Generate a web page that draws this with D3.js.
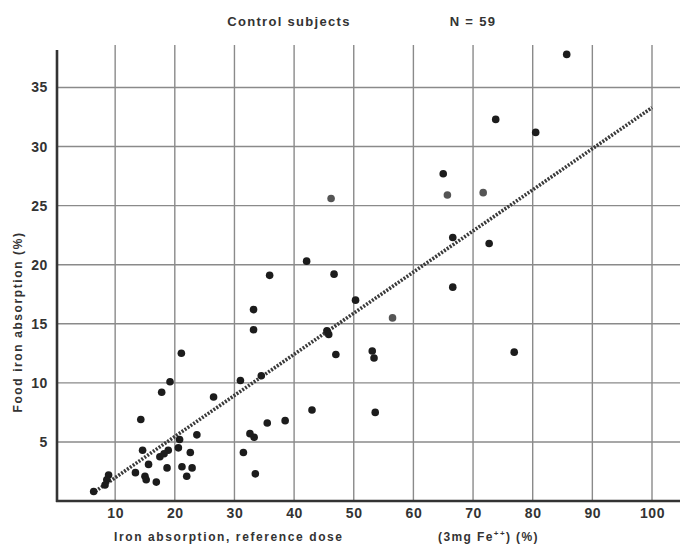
<!DOCTYPE html>
<html>
<head>
<meta charset="utf-8">
<script src="https://cdn.jsdelivr.net/npm/d3@7"></script>
<style>
body { margin: 0; background: #fff; }
text { font-family: "Liberation Sans", Arial, sans-serif; font-weight: bold; fill: #333; }
</style>
</head>
<body>
<div id="graph"></div>
<script>
// reference dose absorption (%) vs food iron absorption (%)
const refDose = [85.7, 73.8, 80.5, 65.0, 65.7, 71.7, 66.6, 72.7, 66.6, 76.9,
  46.2, 42.1, 35.9, 46.7, 50.3, 33.2, 56.5, 33.2, 45.5, 45.8,
  47.0, 53.1, 53.4, 34.5, 31.0, 26.5, 43.0, 53.6, 35.5, 38.5,
  32.6, 33.3, 31.5, 33.5, 21.1, 19.2, 17.8, 14.3, 20.8, 20.6,
  23.7, 22.6, 14.6, 18.7, 21.2, 22.9, 22.0, 16.9, 15.0, 15.2,
  13.4, 15.6, 17.5, 18.9, 18.2, 8.9, 8.6, 8.3, 6.4];
const foodIron = [37.8, 32.3, 31.2, 27.7, 25.9, 26.1, 22.3, 21.8, 18.1, 12.6,
  25.6, 20.3, 19.1, 19.2, 17.0, 16.2, 15.5, 14.5, 14.4, 14.1,
  12.4, 12.7, 12.1, 10.6, 10.2, 8.8, 7.7, 7.5, 6.6, 6.8,
  5.7, 5.4, 4.1, 2.3, 12.5, 10.1, 9.2, 6.9, 5.2, 4.5,
  5.6, 4.1, 4.3, 2.8, 2.9, 2.8, 2.1, 1.6, 2.1, 1.8,
  2.4, 3.1, 3.75, 4.3, 4.0, 2.2, 1.8, 1.35, 0.8];
const greyDots = [4, 5, 10, 16];

// regression line end points
const fitX = [6.2, 100];
const fitY = [0.65, 33.3];

const xTicks = [10, 20, 30, 40, 50, 60, 70, 80, 90, 100];
const yTicks = [5, 10, 15, 20, 25, 30, 35];

const W = 680, H = 544;
const x = d3.scaleLinear().domain([0, 100]).range([55.5, 652]);
const y = d3.scaleLinear().domain([0, 35]).range([501, 87.5]);
const left = 57, bottom = 501, right = 680;

const svg = d3.select('#graph')
  .append('svg')
  .attr('width', W)
  .attr('height', H);

// grid
svg.append('g').selectAll('line')
  .data(xTicks)
  .join('line')
  .attr('x1', d => x(d)).attr('x2', d => x(d))
  .attr('y1', 45).attr('y2', bottom)
  .attr('stroke', '#8a8a8a').attr('stroke-width', 1.4);

svg.append('g').selectAll('line')
  .data(yTicks)
  .join('line')
  .attr('x1', left).attr('x2', right)
  .attr('y1', d => y(d)).attr('y2', d => y(d))
  .attr('stroke', '#8a8a8a').attr('stroke-width', 1.4);

// axes
svg.append('line')
  .attr('x1', left).attr('x2', left).attr('y1', 50).attr('y2', bottom + 1)
  .attr('stroke', '#333').attr('stroke-width', 2.6);
svg.append('line')
  .attr('x1', left - 1).attr('x2', right).attr('y1', bottom).attr('y2', bottom)
  .attr('stroke', '#333').attr('stroke-width', 2.6);

// tick labels
const xAxis = svg.append('g')
  .attr('transform', `translate(0,${bottom})`)
  .call(d3.axisBottom(x).tickValues(xTicks).tickSize(0).tickPadding(7));
const yAxis = svg.append('g')
  .attr('transform', `translate(${left - 1},0)`)
  .call(d3.axisLeft(y).tickValues(yTicks).tickSize(0).tickPadding(8));
[xAxis, yAxis].forEach(a => {
  a.select('.domain').remove();
  a.selectAll('text')
    .style('font-family', '"Liberation Sans", Arial, sans-serif')
    .style('font-weight', 'bold')
    .style('font-size', '14px')
    .style('letter-spacing', '0.6px')
    .attr('fill', '#333');
});

// regression line
svg.append('line')
  .attr('x1', x(fitX[0])).attr('y1', y(fitY[0]))
  .attr('x2', x(fitX[1])).attr('y2', y(fitY[1]))
  .attr('stroke', '#3a3a3a')
  .attr('stroke-width', 3.6)
  .attr('stroke-dasharray', '2,1.5');

// points
svg.append('g').selectAll('circle')
  .data(refDose.map((d, i) => [d, foodIron[i], i]))
  .join('circle')
  .attr('cx', d => x(d[0]))
  .attr('cy', d => y(d[1]))
  .attr('r', 3.8)
  .attr('fill', d => greyDots.includes(d[2]) ? '#555' : '#1c1c1c');

// titles
svg.append('text')
  .attr('x', 289).attr('y', 26)
  .attr('text-anchor', 'middle')
  .style('font-size', '13px').style('letter-spacing', '1.3px')
  .text('Control subjects');
svg.append('text')
  .attr('x', 473).attr('y', 26)
  .attr('text-anchor', 'middle')
  .style('font-size', '13px').style('letter-spacing', '1.3px')
  .text('N = 59');

svg.append('text')
  .attr('x', 114).attr('y', 541)
  .style('font-size', '12px').style('letter-spacing', '1.6px')
  .text('Iron absorption, reference dose');
const unit = svg.append('text')
  .attr('x', 438).attr('y', 541)
  .style('font-size', '12px').style('letter-spacing', '1.4px');
unit.append('tspan').text('(3mg Fe');
unit.append('tspan').attr('dy', -5).style('font-size', '8px').text('++');
unit.append('tspan').attr('dy', 5).text(') (%)');

svg.append('text')
  .attr('transform', 'translate(22,322) rotate(-90)')
  .attr('text-anchor', 'middle')
  .style('font-size', '12px').style('letter-spacing', '1.6px')
  .text('Food iron absorption (%)');
</script>
</body>
</html>
